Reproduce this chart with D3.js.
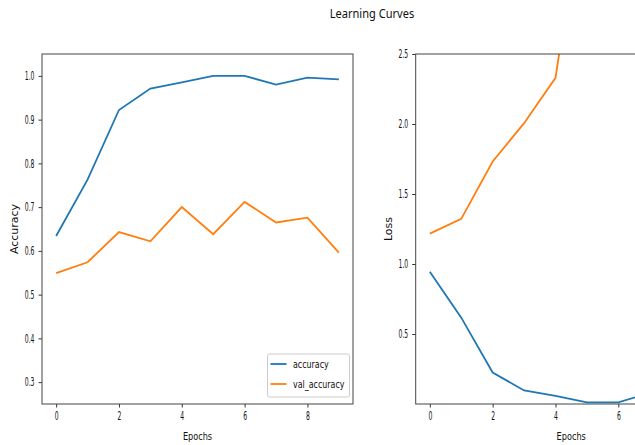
<!DOCTYPE html>
<html lang="en">
<head>
  <meta charset="UTF-8">
  <title>Learning Curves</title>
  <script src="https://cdnjs.cloudflare.com/ajax/libs/d3/7.8.5/d3.min.js"></script>
  <style>
    body { margin: 0; padding: 0; background: #fff; }
    svg { display: block; overflow: hidden; }
  </style>
</head>
<body>
<svg id="chart" width="635" height="445"></svg>
<script>
  // Data
  const epochs = [0, 1, 2, 3, 4, 5, 6, 7, 8, 9];
  const accuracy = [0.634, 0.763, 0.922, 0.971, 0.985, 1.0, 1.0, 0.98, 0.996, 0.992];
  const valAccuracy = [0.549, 0.574, 0.643, 0.622, 0.70, 0.638, 0.712, 0.665, 0.676, 0.596];
  const loss = [0.944, 0.617, 0.225, 0.097, 0.058, 0.011, 0.011, 0.08, 0.03, 0.04];
  const valLoss = [1.217, 1.322, 1.732, 2.006, 2.33, 3.8, 3.3, 3.9, 3.7, 4.4];
  const xTicks = [0, 2, 4, 6, 8];
  const accTicks = [0.3, 0.4, 0.5, 0.6, 0.7, 0.8, 0.9, 1.0];
  const lossTicks = [0.5, 1.0, 1.5, 2.0, 2.5];

  const svg = d3.select("#chart");
  const W = +svg.attr("width");
  const blue = "#1f77b4", orange = "#ff7f0e";
  const font = "DejaVu Sans";

  // narrow the labels horizontally, as they look in the picture
  function squeeze(sel, k) {
    sel.each(function() {
      const w = this.getComputedTextLength();
      d3.select(this).attr("textLength", w * k).attr("lengthAdjust", "spacingAndGlyphs");
    });
  }

  function panel(id, left, ylim, yTicks, series, yLabel) {
    const top = 54, bottom = 404, width = 311;
    const x = d3.scaleLinear().domain([-0.45, 9.45]).range([left, left + width]);
    const y = d3.scaleLinear().domain(ylim).range([bottom, top]);
    const g = svg.append("g");

    g.append("clipPath").attr("id", id)
      .append("rect").attr("x", left).attr("y", top).attr("width", width).attr("height", bottom - top);

    const line = d3.line().x((d, i) => x(epochs[i])).y(d => y(d));
    series.forEach(s => {
      g.append("path")
        .datum(s.values)
        .attr("clip-path", `url(#${id})`)
        .attr("fill", "none")
        .attr("stroke", s.color)
        .attr("stroke-width", 1.8)
        .attr("d", line);
    });

    // only the ticks that fall inside the window
    const shownX = xTicks.filter(t => x(t) < W - 6);
    const xa = g.append("g")
      .attr("transform", `translate(0,${bottom})`)
      .call(d3.axisBottom(x).tickValues(shownX).tickFormat(d3.format("d")).tickSize(3.5).tickPadding(4));
    const ya = g.append("g")
      .attr("transform", `translate(${left},0)`)
      .call(d3.axisLeft(y).tickValues(yTicks).tickFormat(d3.format(".1f")).tickSize(3.5).tickPadding(4));
    [xa, ya].forEach(a => {
      a.select(".domain").remove();
      a.selectAll("line").attr("stroke", "#333");
      a.selectAll("text").attr("font-family", font).attr("font-size", 11.5).attr("fill", "#111");
      squeeze(a.selectAll("text"), 0.53);
    });

    g.append("rect")
      .attr("x", left).attr("y", top).attr("width", width).attr("height", bottom - top)
      .attr("fill", "none").attr("stroke", "#444").attr("stroke-width", 1);

    const xl = g.append("text")
      .attr("x", left + width / 2).attr("y", 440)
      .attr("text-anchor", "middle")
      .attr("font-family", font).attr("font-size", 11).attr("fill", "#111")
      .text("Epochs");
    squeeze(xl, 0.74);

    g.append("text")
      .attr("transform", `translate(${left - 24},${(top + bottom) / 2}) rotate(-90)`)
      .attr("text-anchor", "middle")
      .attr("font-family", font).attr("font-size", 11).attr("fill", "#111")
      .text(yLabel);

    return { g, x, y };
  }

  const accPanel = panel("clipAcc", 42, [0.25, 1.05], accTicks, [
    { name: "accuracy", values: accuracy, color: blue },
    { name: "val_accuracy", values: valAccuracy, color: orange }
  ], "Accuracy");

  panel("clipLoss", 415.7, [0, 2.5], lossTicks, [
    { name: "loss", values: loss, color: blue },
    { name: "val_loss", values: valLoss, color: orange }
  ], "Loss");

  // legend, lower right of the accuracy panel
  const leg = accPanel.g.append("g").attr("transform", "translate(267.5,354)");
  leg.append("rect")
    .attr("width", 82).attr("height", 43).attr("rx", 2)
    .attr("fill", "#fff").attr("fill-opacity", 0.8).attr("stroke", "#ccc");
  [["accuracy", blue], ["val_accuracy", orange]].forEach(([name, color], i) => {
    const yy = 10 + i * 20;
    leg.append("line").attr("x1", 3).attr("x2", 19).attr("y1", yy).attr("y2", yy)
      .attr("stroke", color).attr("stroke-width", 1.8);
    const t = leg.append("text").attr("x", 25.5).attr("y", yy + 4)
      .attr("font-family", font).attr("font-size", 11).attr("fill", "#111")
      .text(name);
    squeeze(t, 0.72);
  });

  const title = svg.append("text")
    .attr("x", 372).attr("y", 18)
    .attr("text-anchor", "middle")
    .attr("font-family", "Noto Sans").attr("font-size", 12).attr("fill", "#111")
    .text("Learning Curves");
  squeeze(title, 0.92);
</script>
</body>
</html>
